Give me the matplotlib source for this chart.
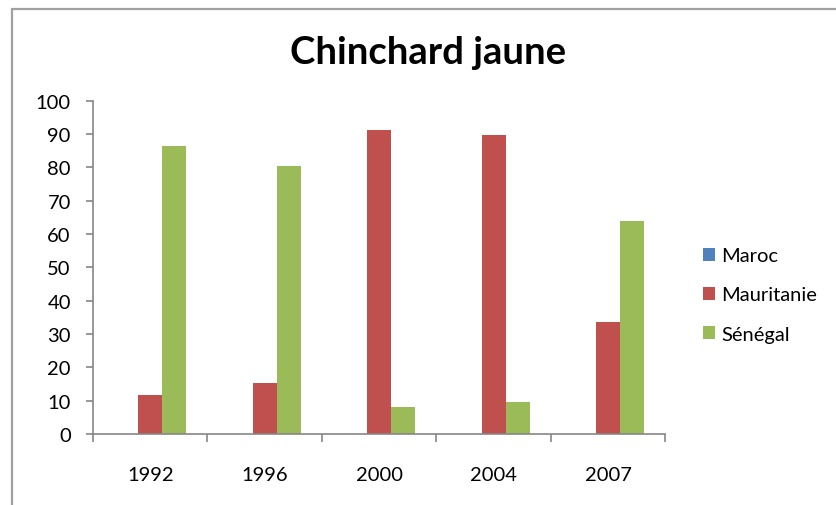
import numpy as np
import matplotlib
matplotlib.use("Agg")
import matplotlib.pyplot as plt
from matplotlib.patches import Rectangle

plt.rcParams['font.family'] = ['Lato', 'DejaVu Sans']

# Données
annees = ['1992', '1996', '2000', '2004', '2007']
maroc = [0, 0, 0, 0, 0]
mauritanie = [11.7, 15.3, 91.3, 89.7, 33.7]
senegal = [86.5, 80.3, 8.0, 9.5, 64.0]

series = ['Maroc', 'Mauritanie', 'Sénégal']
couleurs = ['#4F81BD', '#C0504D', '#9BBB59']

fig = plt.figure(figsize=(8.37, 5.06), dpi=100)
ax = fig.add_axes([93 / 837, 1 - 435 / 506, 572.5 / 837, 333.3 / 506])

x = np.arange(len(annees))
w = 0.21
for i, (vals, nom, c) in enumerate(zip([maroc, mauritanie, senegal], series, couleurs)):
    ax.bar(x + (i - 1) * w, vals, width=w, color=c, label=nom, edgecolor='none')

ax.set_xlim(-0.5, len(annees) - 0.5)
ax.set_ylim(0, 100)
ax.set_yticks(np.arange(0, 101, 10))
ax.set_xticks(x)
ax.set_xticklabels(annees)
ax.set_xticks(np.arange(-0.5, len(annees)), minor=True)
ax.tick_params(axis='x', which='major', length=0, pad=23, labelsize=14.5)
ax.tick_params(axis='x', which='minor', length=6, color='#868686', width=1.2)
ax.tick_params(axis='y', length=5, color='#868686', width=1.2, labelsize=14.5, pad=11)

for s in ['top', 'right']:
    ax.spines[s].set_visible(False)
for s in ['left', 'bottom']:
    ax.spines[s].set_color('#868686')
    ax.spines[s].set_linewidth(1.2)

fig.text(428 / 837, 1 - 53 / 506, 'Chinchard jaune', ha='center', va='center',
         fontsize=27.5, fontweight='bold')

ax.legend(loc='center left', bbox_to_anchor=(693 / 837, 1 - 296 / 506),
          bbox_transform=fig.transFigure, frameon=False, fontsize=14.5, borderpad=0,
          handlelength=0.6, handleheight=0.6, handletextpad=0.3, labelspacing=1.1)

# cadre du graphique
fig.add_artist(Rectangle((12.5 / 837, -0.1), 1.0, 1 - 10 / 506 + 0.1,
                         transform=fig.transFigure, fill=False,
                         edgecolor='#A0A0A0', linewidth=1.6))

fig.savefig('out.png', dpi=100)
